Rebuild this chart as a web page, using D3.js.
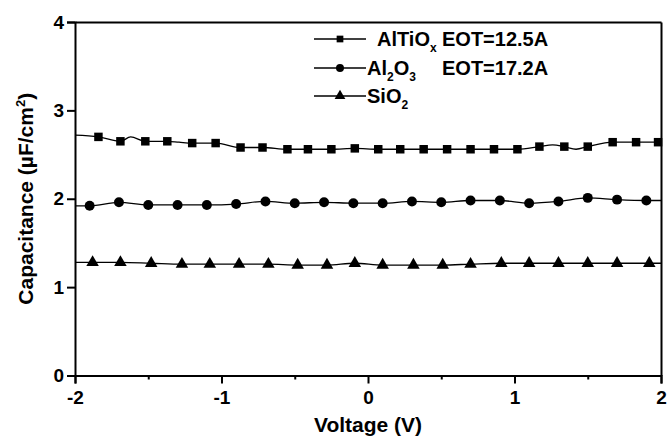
<!DOCTYPE html>
<html lang="en">
<head>
  <meta charset="UTF-8">
  <title>Capacitance vs Voltage</title>
  <style>
    body { margin: 0; background: #fff; }
    svg { display: block; }
    .tick-label { font-family: "Liberation Sans", Arial, sans-serif; font-weight: bold; font-size: 19px; fill: #000; }
    .title { font-family: "Liberation Sans", Arial, sans-serif; font-weight: bold; font-size: 21px; fill: #000; }
    .legend { font-family: "Liberation Sans", Arial, sans-serif; font-weight: bold; font-size: 20px; fill: #000; }
    .curve { fill: none; stroke: #000; stroke-width: 1.3px; }
  </style>
</head>
<body>
  <svg id="chart" width="667" height="438"></svg>
  <script src="https://d3js.org/d3.v7.min.js"></script>
  <script>
    // AlTiOx (squares)
    const sqVolt = [-1.84, -1.69, -1.52, -1.37, -1.20, -1.04, -0.87, -0.72, -0.55, -0.41, -0.25, -0.09, 0.07,
                    0.22, 0.38, 0.54, 0.70, 0.86, 1.02, 1.17, 1.34, 1.50, 1.67, 1.83, 1.98];
    const sqCap = [2.70, 2.65, 2.65, 2.65, 2.63, 2.63, 2.58, 2.58, 2.56, 2.56, 2.56, 2.57, 2.56,
                   2.56, 2.56, 2.56, 2.56, 2.56, 2.56, 2.59, 2.59, 2.59, 2.64, 2.64, 2.64];
    // extra points on the square curve (ends and wiggles between markers)
    const sqLineVolt = [-2.0, -1.62, -1.29, 1.26, 1.42, 2.0];
    const sqLineCap = [2.72, 2.70, 2.64, 2.61, 2.56, 2.64];

    // Al2O3 (circles)
    const ciVolt = [-1.9, -1.7, -1.5, -1.3, -1.1, -0.9, -0.7, -0.5, -0.3, -0.1,
                    0.1, 0.3, 0.5, 0.7, 0.9, 1.1, 1.3, 1.5, 1.7, 1.9];
    const ciCap = [1.92, 1.96, 1.93, 1.93, 1.93, 1.94, 1.97, 1.95, 1.96, 1.95,
                   1.95, 1.97, 1.96, 1.98, 1.98, 1.95, 1.97, 2.01, 1.99, 1.98];
    const ciLineVolt = [-2.0, 2.0];
    const ciLineCap = [1.92, 1.98];

    // SiO2 (triangles)
    const trVolt = [-1.88, -1.69, -1.48, -1.27, -1.08, -0.88, -0.68, -0.48, -0.28, -0.09,
                    0.10, 0.31, 0.51, 0.70, 0.91, 1.10, 1.30, 1.50, 1.70, 1.92];
    const trCap = [1.28, 1.28, 1.27, 1.26, 1.26, 1.26, 1.26, 1.25, 1.25, 1.27,
                   1.25, 1.25, 1.25, 1.26, 1.27, 1.27, 1.27, 1.27, 1.27, 1.27];
    const trLineVolt = [-2.0, 2.0];
    const trLineCap = [1.28, 1.27];

    const xTicks = [-2, -1, 0, 1, 2];
    const xMinor = [-1.5, -0.5, 0.5, 1.5];
    const yTicks = [0, 1, 2, 3, 4];

    const svg = d3.select("#chart");
    const x = d3.scaleLinear().domain([-2, 2]).range([75, 661]);
    const y = d3.scaleLinear().domain([0, 4]).range([375.5, 22]);

    const pts = (v, c) => v.map((d, i) => [d, c[i]]);
    const merged = (v, c, lv, lc) => pts(v, c).concat(pts(lv, lc)).sort((a, b) => a[0] - b[0]);

    const line = d3.line()
      .x(d => x(d[0]))
      .y(d => y(d[1]))
      .curve(d3.curveMonotoneX);

    const series = [
      { pts: pts(sqVolt, sqCap), line: merged(sqVolt, sqCap, sqLineVolt, sqLineCap), sym: d3.symbolSquare, size: 72 },
      { pts: pts(ciVolt, ciCap), line: merged(ciVolt, ciCap, ciLineVolt, ciLineCap), sym: d3.symbolCircle, size: 78 },
      { pts: pts(trVolt, trCap), line: merged(trVolt, trCap, trLineVolt, trLineCap), sym: d3.symbolTriangle, size: 68 }
    ];

    series.forEach(s => {
      svg.append("path").attr("class", "curve").attr("d", line(s.line));
      svg.append("g").selectAll("path")
        .data(s.pts)
        .join("path")
        .attr("transform", d => `translate(${x(d[0])},${y(d[1])})`)
        .attr("d", d3.symbol().type(s.sym).size(s.size))
        .attr("fill", "#000");
    });

    // axes (plain hyphen minus as in the original figure)
    const fmt = d => String(d);
    svg.append("g")
      .attr("transform", `translate(0,${y(0)})`)
      .call(d3.axisBottom(x).tickValues(xTicks).tickSize(8).tickPadding(7).tickFormat(fmt));
    svg.append("g")
      .attr("transform", `translate(0,${y(0)})`)
      .call(d3.axisBottom(x).tickValues(xMinor).tickSize(4).tickFormat(""))
      .call(g => g.select(".domain").remove());
    svg.append("g")
      .attr("transform", `translate(${x(-2)},0)`)
      .call(d3.axisLeft(y).tickValues(yTicks).tickSize(8).tickPadding(3).tickFormat(fmt));
    svg.append("g")
      .attr("transform", `translate(0,${y(4)})`)
      .call(d3.axisTop(x).tickValues([]).tickSizeOuter(0));
    svg.append("g")
      .attr("transform", `translate(${x(2)},0)`)
      .call(d3.axisRight(y).tickValues([]).tickSizeOuter(0));

    svg.selectAll(".domain").attr("stroke", "#000").attr("stroke-width", 2);
    svg.selectAll(".tick line").attr("stroke", "#000").attr("stroke-width", 2);
    svg.selectAll(".tick text").attr("class", "tick-label").attr("font-size", null).attr("font-family", null);

    // axis titles
    svg.append("text").attr("class", "title")
      .attr("x", (x(-2) + x(2)) / 2).attr("y", 432)
      .attr("font-size", 20)
      .attr("text-anchor", "middle")
      .text("Voltage (V)");

    const yt = svg.append("text").attr("class", "title")
      .attr("transform", `translate(33,${(y(0) + y(4)) / 2}) rotate(-90)`)
      .attr("text-anchor", "middle");
    yt.append("tspan").text("Capacitance (\u00B5F/cm");
    yt.append("tspan").attr("dy", -8).attr("font-size", 13).text("2");
    yt.append("tspan").attr("dy", 8).text(")");

    // legend
    const legRows = [
      { sym: d3.symbolSquare, size: 45, y: 39 },
      { sym: d3.symbolCircle, size: 50, y: 68 },
      { sym: d3.symbolTriangle, size: 50, y: 96 }
    ];
    legRows.forEach(r => {
      svg.append("line").attr("x1", 314).attr("x2", 366).attr("y1", r.y).attr("y2", r.y)
        .attr("stroke", "#000").attr("stroke-width", 1.3);
      svg.append("path").attr("transform", `translate(340,${r.y})`)
        .attr("d", d3.symbol().type(r.sym).size(r.size)).attr("fill", "#000");
    });

    const t1 = svg.append("text").attr("class", "legend").attr("x", 377).attr("y", 46);
    t1.append("tspan").text("AlTiO");
    t1.append("tspan").attr("dy", 6).attr("font-size", 12).text("x");
    svg.append("text").attr("class", "legend").attr("x", 442).attr("y", 46).text("EOT=12.5A");

    const t2 = svg.append("text").attr("class", "legend").attr("x", 367).attr("y", 75);
    t2.append("tspan").text("Al");
    t2.append("tspan").attr("dy", 6).attr("font-size", 12).text("2");
    t2.append("tspan").attr("dy", -6).text("O");
    t2.append("tspan").attr("dy", 6).attr("font-size", 12).text("3");
    svg.append("text").attr("class", "legend").attr("x", 442).attr("y", 75).text("EOT=17.2A");

    const t3 = svg.append("text").attr("class", "legend").attr("x", 367).attr("y", 103);
    t3.append("tspan").text("SiO");
    t3.append("tspan").attr("dy", 6).attr("font-size", 12).text("2");
  </script>
</body>
</html>
